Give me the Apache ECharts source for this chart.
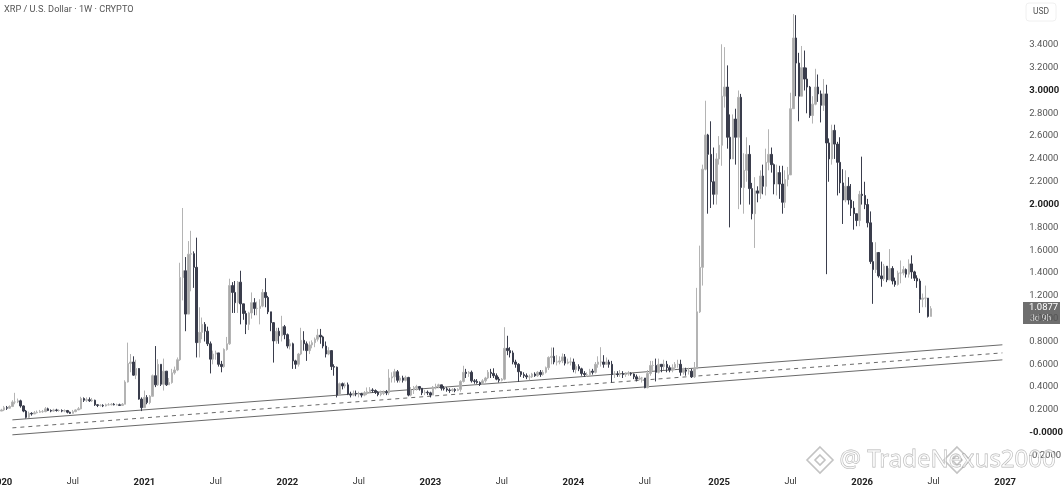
<!DOCTYPE html>
<html><head><meta charset="utf-8">
<style>html,body{margin:0;padding:0;background:#fff}#c{width:1064px;height:486px;filter:blur(0.5px)}</style>
<script src="https://cdn.jsdelivr.net/npm/echarts@6/dist/echarts.min.js"></script></head>
<body><div id="c"></div>
<script>
// Weekly closes / highs / lows, 2020-01-06 onward. Each open is the previous close.
const firstOpen = 0.19;
const closes = [
.20,.22,.215,.23,.27,.27,.28,.235,.19,.135,.17,.165,.175,.18,.185,.185,.21,.195,.19,.2,.195,.195,.19,.195,.18,.17,
.185,.2,.21,.3,.285,.29,.28,.285,.245,.24,.24,.235,.245,.245,.25,.245,.245,.24,.25,.445,.607,.62,.505,.563,.295,.22,
.31,.265,.32,.5,.42,.6,.425,.54,.42,.44,.525,.55,.64,1.36,1.42,1.04,1.565,1.57,1.45,.79,.88,.95,.89,.78,.645,.69,
.7,.6,.58,.73,.78,1.29,1.23,1.14,1.32,1.13,1.045,.95,1.05,1.14,1.09,1.09,1.11,1.23,1.185,1.06,.965,.805,.89,.85,.93,.86,
.76,.78,.63,.6,.69,.81,.78,.72,.77,.79,.82,.855,.84,.76,.69,.72,.58,.575,.33,.43,.41,.42,.34,.33,.345,.34,
.34,.33,.345,.36,.375,.37,.355,.335,.345,.355,.35,.48,.49,.535,.46,.48,.46,.485,.33,.375,.395,.405,.39,.35,.355,.35,
.33,.4,.405,.42,.39,.385,.375,.37,.38,.37,.38,.45,.53,.52,.53,.455,.45,.44,.425,.455,.48,.53,.52,.5,.47,.46,
.47,.74,.72,.7,.62,.6,.535,.51,.5,.49,.49,.515,.5,.53,.51,.53,.57,.66,.67,.62,.62,.63,.665,.61,.62,.62,
.555,.58,.56,.52,.51,.51,.54,.53,.6,.62,.62,.6,.62,.6,.51,.515,.51,.515,.51,.515,.52,.515,.49,.47,.48,.48,
.395,.52,.59,.59,.53,.6,.58,.6,.57,.55,.57,.6,.6,.53,.55,.54,.54,.49,.56,1.06,1.45,2.31,2.61,2.44,2.2,2.09,2.4,
2.52,2.95,3.03,2.59,2.4,2.75,2.59,2.94,2.15,2.3,2.44,2.14,1.92,2.12,2.1,2.25,2.16,2.37,2.44,2.35,2.18,2.28,2.18,2.02,2.22,2.26,
2.84,3.46,3.24,2.95,3.2,3.1,3.03,2.78,2.88,3.03,2.97,2.87,2.97,2.54,2.4,2.65,2.53,2.37,2.19,2.04,2.16,2.04,1.97,1.92,1.86,2.09,
2.08,2.0,1.84,1.5,1.43,1.58,1.375,1.35,1.46,1.34,1.44,1.33,1.3,1.4,1.4,1.43,1.39,1.48,1.41,1.355,1.33,1.17,1.18,1.18,1.02,1.0877];
const highs = [
.21,.235,.235,.24,.285,.35,.30,.29,.24,.2,.185,.18,.19,.195,.2,.2,.225,.22,.205,.21,.21,.205,.205,.205,.2,.185,
.2,.205,.225,.315,.31,.31,.31,.305,.29,.25,.25,.25,.255,.26,.26,.26,.255,.255,.26,.46,.79,.69,.67,.64,.56,.31,
.37,.33,.33,.51,.76,.645,.6,.65,.54,.48,.56,.58,.66,1.49,1.97,1.54,1.68,1.77,1.59,1.71,1.10,1.01,.97,.93,.80,.72,
.72,.7,.63,.74,.84,1.35,1.32,1.33,1.33,1.42,1.13,1.07,1.06,1.23,1.18,1.15,1.17,1.26,1.355,1.2,1.06,.97,.92,.92,1.025,.945,
.87,.82,.79,.64,.7,.92,.89,.8,.8,.81,.835,.91,.91,.85,.8,.75,.72,.6,.58,.44,.44,.44,.44,.36,.37,.37,
.36,.35,.365,.397,.4,.39,.38,.365,.37,.37,.375,.557,.53,.56,.55,.5,.5,.5,.49,.4,.41,.42,.41,.39,.375,.37,
.36,.41,.43,.43,.42,.41,.4,.39,.39,.39,.39,.46,.587,.56,.54,.545,.47,.47,.45,.47,.49,.55,.56,.565,.52,.49,
.48,.925,.85,.75,.72,.64,.61,.54,.53,.52,.51,.525,.53,.54,.55,.55,.58,.67,.747,.747,.68,.67,.695,.69,.65,.66,
.65,.6,.6,.57,.54,.53,.56,.56,.62,.67,.75,.68,.66,.64,.63,.54,.54,.55,.54,.53,.54,.53,.52,.51,.5,.49,
.48,.55,.63,.63,.65,.65,.6,.64,.63,.59,.6,.62,.64,.64,.57,.57,.57,.56,.62,1.27,1.64,2.35,2.91,2.62,2.73,2.5,2.45,
2.6,3.405,3.38,3.22,2.79,2.79,2.84,3.0,2.97,2.45,2.59,2.52,2.19,2.24,2.16,2.3,2.35,2.49,2.66,2.5,2.36,2.35,2.34,2.34,2.3,2.33,
2.98,3.67,3.66,3.33,3.39,3.35,3.2,3.04,2.95,3.19,3.14,3.0,3.1,3.05,2.58,2.7,2.7,2.55,2.59,2.31,2.3,2.24,2.18,2.03,1.92,2.12,
2.42,2.2,2.05,1.94,1.67,1.67,1.52,1.5,1.48,1.45,1.61,1.46,1.36,1.42,1.51,1.46,1.44,1.52,1.555,1.42,1.38,1.35,1.22,1.29,1.18,1.11];
const lows = [
.19,.19,.2,.21,.225,.25,.26,.22,.18,.125,.13,.15,.165,.17,.175,.175,.18,.19,.18,.185,.185,.185,.18,.18,.17,.165,
.17,.18,.2,.205,.27,.27,.27,.27,.235,.225,.23,.225,.23,.24,.24,.24,.24,.235,.235,.25,.44,.53,.5,.47,.29,.19,
.225,.25,.25,.33,.40,.41,.41,.37,.41,.42,.43,.51,.54,.63,1.16,.89,1.04,1.24,1.27,.66,.66,.82,.8,.76,.52,.6,
.64,.58,.53,.57,.72,.77,1.05,1.05,1.05,.95,.99,.865,.9,1.0,1.03,1.03,.95,1.1,1.1,1.04,.89,.615,.78,.78,.8,.82,
.74,.73,.56,.56,.58,.68,.72,.63,.69,.74,.75,.8,.78,.74,.66,.68,.55,.5,.31,.33,.38,.39,.33,.31,.32,.32,
.31,.31,.32,.33,.35,.35,.34,.32,.32,.33,.33,.33,.44,.44,.44,.44,.44,.45,.32,.32,.34,.37,.37,.33,.33,.33,
.31,.33,.38,.39,.37,.37,.36,.35,.36,.355,.365,.36,.44,.48,.49,.44,.43,.43,.41,.42,.44,.47,.48,.48,.46,.44,
.45,.46,.68,.66,.6,.57,.445,.49,.48,.47,.46,.48,.49,.49,.49,.5,.52,.55,.6,.6,.59,.6,.61,.59,.6,.59,
.53,.52,.54,.5,.49,.49,.5,.51,.52,.57,.58,.57,.6,.57,.44,.48,.49,.49,.48,.49,.5,.5,.47,.45,.46,.44,
.39,.39,.5,.54,.45,.52,.53,.55,.53,.53,.53,.55,.57,.5,.51,.5,.51,.48,.48,.56,1.05,1.29,2.3,1.92,1.97,2.0,2.0,
2.35,2.34,2.85,2.49,1.8,2.4,2.35,1.96,2.0,1.92,2.2,2.0,1.87,1.62,2.02,2.05,2.09,2.08,2.3,2.28,2.09,2.08,2.05,1.92,1.97,2.16,
2.26,2.85,2.95,2.73,2.95,3.0,2.8,2.76,2.71,2.87,2.9,2.72,2.82,1.39,2.2,2.35,2.4,2.08,2.1,1.83,2.02,2.0,1.9,1.78,1.81,1.81,
2.0,1.96,1.8,1.48,1.13,1.4,1.36,1.28,1.33,1.32,1.34,1.3,1.28,1.29,1.31,1.38,1.36,1.36,1.35,1.33,1.27,1.05,1.1,1.1,1.01,1.02];
// Channel lines: [category index, price] at both ends
const channelTop = [[4,0.113],[363.6,0.771]];
const channelMid = [[4,0.043],[363.6,0.70]];
const channelBot = [[4,-0.018],[363.6,0.639]];
const yearTicks = {0:'2020',52:'2021',104:'2022',156:'2023',208:'2024',261:'2025',313:'2026',365:'2027'};
const julyTicks = {26:'Jul',78:'Jul',130:'Jul',182:'Jul',234:'Jul',287:'Jul',339:'Jul'};
const boldPrices = ['2.0000','3.0000','-0.0000'];
const lastPrice = '1.0877', countdown = '3d 9h';
const weekCount = 371;

const categories = [];
for (let i=0;i<weekCount;i++) categories.push(String(i));
const ohlc = closes.map((c,i)=>[i?closes[i-1]:firstOpen,c,lows[i],highs[i]]);
const line = (data,type)=>({type:'line',data,symbol:'none',silent:true,z:1,lineStyle:{color:'#6a6a6a',width:1,type:type==='dashed'?[4,4]:'solid'}});
const logo = (cx,cy)=>[
  {type:'polygon',z:100,shape:{points:[[cx,cy-13],[cx+13,cy],[cx,cy+13],[cx-13,cy]]},style:{fill:'rgba(255,255,255,0.5)',stroke:'rgba(170,170,170,0.7)',lineWidth:1.6}},
  {type:'polygon',z:100,shape:{points:[[cx,cy-5],[cx+5,cy],[cx,cy+5],[cx-5,cy]]},style:{fill:'rgba(255,255,255,0.5)',stroke:'rgba(170,170,170,0.7)',lineWidth:1.6}}
];
const chart = echarts.init(document.getElementById('c'),null,{renderer:'canvas'});
chart.setOption({
  animation:false,backgroundColor:'#ffffff',
  grid:{left:0,width:1020.25,top:-0.8,height:479.2,containLabel:false,outerBoundsMode:'none'},
  xAxis:{type:'category',data:categories,boundaryGap:true,
    axisLine:{show:false},axisTick:{show:false},splitLine:{show:false},
    axisLabel:{show:true,interval:0,margin:-1,color:'#333',fontFamily:'Roboto',fontSize:9,hideOverlap:false,
      formatter:v=>yearTicks[v]?`{y|${yearTicks[v]}}`:(julyTicks[v]||''),
      rich:{y:{fontWeight:'bold',fontSize:9.5,color:'#222',fontFamily:'Roboto'}}}},
  yAxis:{type:'value',position:'right',min:-0.4,max:3.8,interval:0.2,
    axisLine:{show:false},axisTick:{show:false},splitLine:{show:false},
    axisLabel:{inside:false,margin:9,align:'left',color:'#555',fontFamily:'Roboto',fontSize:9.5,
      formatter:v=>{
        if(v<-0.3||v>3.5) return '';
        const s=Math.abs(v)<1e-6?'-0.0000':v.toFixed(4);
        return boldPrices.includes(s)?`{b|${s}}`:s;
      },
      rich:{b:{fontWeight:'bold',color:'#222',fontFamily:'Roboto',fontSize:9.5}}}},
  series:[
    {type:'candlestick',data:ohlc,barWidth:2,z:2,clip:true,
     itemStyle:{color:'#a8a8a8',color0:'#3a3d4c',borderColor:'#b4b4b4',borderColor0:'#3a3d4c',borderWidth:1}},
    line(channelTop,'solid'),line(channelMid,'dashed'),line(channelBot,'solid')
  ],
  graphic:[
    {type:'text',left:4,top:5,style:{text:'XRP / U.S. Dollar · 1W · CRYPTO',font:'9.2px Roboto',fill:'#555'}},
    {type:'rect',shape:{x:1026,y:3,width:30,height:18,r:3},style:{fill:'#fff',stroke:'#f0f0f0'}},
    {type:'text',left:1033,top:7,style:{text:'USD',font:'8.5px Roboto',fill:'#555'}},
    {type:'rect',shape:{x:1023,y:302,width:37,height:22},style:{fill:'#6e6e6e'}},
    {type:'text',left:1029,top:303,style:{text:lastPrice,font:'9.5px Roboto',fill:'#fff'}},
    {type:'text',left:1030,top:314,style:{text:countdown,font:'8.5px Roboto',fill:'#ddd'}},
    ...logo(820,460),...logo(957,460),
    {type:'text',left:839,top:448,z:101,style:{text:'@ TradeNexus2000',font:'24px "Noto Sans"',fill:'rgba(255,255,255,0.55)',stroke:'rgba(150,150,150,0.75)',lineWidth:0.8}}
  ]
});
</script></body></html>
